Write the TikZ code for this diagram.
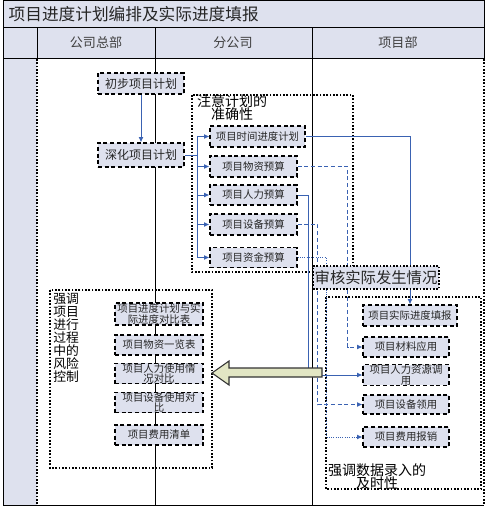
\documentclass[tikz,border=0pt]{standalone}
\usepackage{fontspec}
\setmainfont{Noto Sans CJK SC}
\usetikzlibrary{arrows.meta}
\definecolor{hatch}{RGB}{222,225,238}
\definecolor{lnk}{RGB}{58,98,178}
\definecolor{bigarr}{RGB}{226,230,196}

\begin{document}
\begin{tikzpicture}[x=0.75pt, y=-0.75pt, >={Latex[length=4pt,width=3.6pt]},
    main/.style = {draw, densely dashed, line width=0.8pt, fill=hatch, inner sep=0pt, align=center, text=black!85, font=\fontsize{7.8}{8.2}\selectfont},
    grp/.style = {draw, line width=0.9pt, dash pattern=on 1.2pt off 1.3pt},
    lnkline/.style = {draw=lnk, line width=0.7pt},
    hd/.style = {text=black!75, font=\fontsize{9.8}{11}\selectfont},
    lbl/.style = {inner sep=0pt, align=center, font=\fontsize{10.5}{9.9}\selectfont}]

\useasboundingbox (0,0) rectangle (491,509);

% frame, title and lanes
\fill[hatch] (3,1) rectangle (484,59);
\fill[hatch] (3,59) rectangle (37,505);
\draw[line width=0.75pt] (3,1) rectangle (484,59);
\draw[line width=0.75pt] (3,28) -- (484,28);
\draw[line width=0.75pt] (37,28) -- (37,59);
\draw[line width=0.75pt] (3,59) -- (3,505) -- (484,505);
\draw[line width=0.75pt] (155,28) -- (155,505);
\draw[line width=0.75pt] (312,28) -- (312,505);
\draw[grp] (37,59) -- (37,505);
\draw[grp] (484,59) -- (484,505);

\node[anchor=west, text=black!85, font=\fontsize{12.5}{14}\selectfont] (ttl) at (4,14) {项目进度计划编排及实际进度填报};
\node[hd] (h1) at (96,43) {公司总部};
\node[hd] (h2) at (233,43) {分公司};
\node[hd] (h3) at (398,43) {项目部};

% groups
\draw[grp] (192,95) rectangle (353,272);
\node[lbl, anchor=north] (g1) at (232,94) {注意计划的\\准确性};
\draw[grp] (50,290) rectangle (212,468);
\node[lbl, anchor=north west, align=left, font=\fontsize{9.6}{9.75}\selectfont] (g4) at (53,293) {强调\\项目\\进行\\过程\\中的\\风险\\控制};
\draw[grp] (326,297) rectangle (481,489);
\node[lbl, anchor=south] (g3) at (377,490) {强调数据录入的\\及时性};

% company head
\node[main, minimum width=64.5pt, minimum height=15.75pt, font=\fontsize{9}{10}\selectfont] (cb) at (141,83.5) {初步项目计划};
\node[main, minimum width=64.5pt, minimum height=18pt, font=\fontsize{9}{10}\selectfont] (sh) at (141,155) {深化项目计划};

% branch
\node[main, minimum width=71.25pt, minimum height=15.75pt] (t1) at (257.5,136.5) {项目时间进度计划};
\node[main, minimum width=65.25pt, minimum height=15.75pt] (t2) at (253.5,166.5) {项目物资预算};
\node[main, minimum width=65.25pt, minimum height=15pt] (t3) at (253.5,195) {项目人力预算};
\node[main, minimum width=65.25pt, minimum height=15.75pt] (t4) at (253.5,224.5) {项目设备预算};
\node[main, minimum width=65.25pt, minimum height=15pt] (t5) at (253.5,257.5) {项目资金预算};

% project dept
\node[main, minimum width=70.5pt, minimum height=15.75pt] (r1) at (410,315.5) {项目实际进度填报};
\node[main, minimum width=64.5pt, minimum height=15pt] (r2) at (406,347) {项目材料应用};
\node[main, minimum width=64.5pt, minimum height=14.25pt] (r3) at (406,375) {项目人力资源调\\用};
\node[main, minimum width=64.5pt, minimum height=14.25pt] (r4) at (406,404.5) {项目设备领用};
\node[main, minimum width=64.5pt, minimum height=15pt] (r5) at (406,437) {项目费用报销};

% comparison lists
\node[main, minimum width=66pt, minimum height=16.5pt] (d1) at (159,314) {项目进度计划与实\\际进度对比表};
\node[main, minimum width=66pt, minimum height=15pt] (d2) at (159,345) {项目物资一览表};
\node[main, minimum width=66pt, minimum height=14.25pt] (d3) at (159,373.5) {项目人力使用情\\况对比};
\node[main, minimum width=66pt, minimum height=14.25pt] (d4) at (159,402.5) {项目设备使用对\\比};
\node[main, minimum width=66pt, minimum height=15pt] (d5) at (159,435) {项目费用清单};

\draw[->, lnkline] (cb) -- (sh);
\draw[lnkline] (sh.east) -- ++(13,0) coordinate (bus);
\draw[->, lnkline] (bus) |- (t1.west);
\draw[->, lnkline] (bus) |- (t2.west);
\draw[->, lnkline] (bus) |- (t3.west);
\draw[->, lnkline] (bus) |- (t4.west);
\draw[->, lnkline] (bus) |- (t5.west);

\draw[->, lnkline] (t1.east) -| (r1.north);
\draw[->, lnkline, densely dashed] (t2.east) -- ++(50,0) |- (r2.west);
\draw[->, lnkline] (t3.east) -- ++(11,0) |- (r3.west);
\draw[->, lnkline, densely dashed] (t4.east) -- ++(20,0) |- (r4.west);
\draw[->, lnkline, densely dotted] (t5.east) -- ++(29,0) |- (r5.west);

\node[grp, fill=hatch, minimum width=94.5pt, minimum height=17.25pt, inner sep=0pt, text=black!85, font=\fontsize{11.5}{12}\selectfont] (sk) at (376,277.5) {审核实际发生情况};

% big arrow back to the head office
\filldraw[fill=bigarr, draw=black!80, line width=0.8pt] (212,373) -- (229,361) -- (229,368) -- (322,368) -- (322,377) -- (229,377) -- (229,385) -- cycle;

\end{tikzpicture}
\end{document}
